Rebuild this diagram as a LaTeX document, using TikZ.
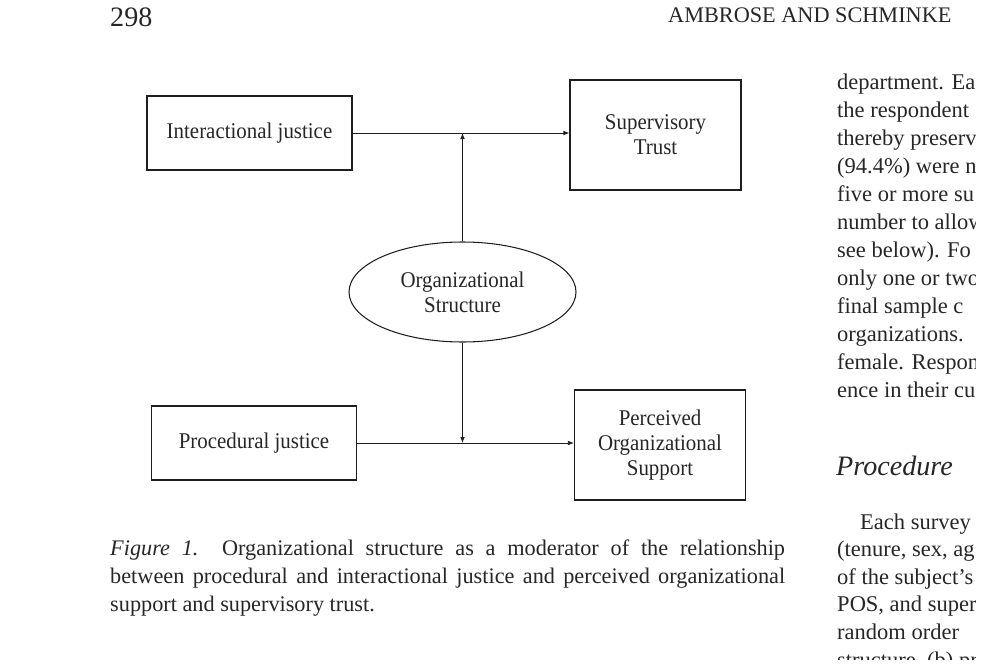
\documentclass[tikz,border=0pt]{standalone}
\usepackage{fontspec}
\setmainfont{Liberation Serif}
\newfontfamily\figfont[FakeStretch=0.93]{Liberation Serif}
\usepackage{tikz}
\usetikzlibrary{arrows.meta,positioning,shapes.geometric}
\definecolor{cInk}{HTML}{262626}
\definecolor{cLine}{HTML}{1E1E1E}
\tikzset{
  jbox/.style={rectangle, draw=cLine, line width=1pt, minimum width=6.15cm, minimum height=2.22cm, inner sep=0pt, align=center, text=cInk, font=\figfont\fontsize{19.2}{21.3}\selectfont},
  obox/.style={jbox, minimum width=5.13cm, minimum height=3.3cm},
  oval/.style={ellipse, draw=cLine, line width=0.9pt, minimum width=6.81cm, minimum height=3.0cm, inner sep=0pt, align=center, text=cInk, font=\figfont\fontsize{19.2}{21.3}\selectfont},
  link/.style={-{Latex[length=1.8mm, width=1.4mm]}, line width=0.7pt, cLine},
  body/.style={anchor=base west, inner sep=0pt, text=cInk, font=\fontsize{19.2}{23}\selectfont},
  capline/.style={anchor=base west, inner sep=0pt, text=cInk, font=\fontsize{19}{23}\selectfont},
}

\begin{document}
\begin{tikzpicture}[x=0.03cm, y=-0.03cm]
  \useasboundingbox (0,0) rectangle (1007,671);
  % running head
  \node[capline, font=\fontsize{24}{28}\selectfont] (pagenum) at (110,26) {298};
  \node[capline] (runhead) at (668,22) {AMBROSE AND SCHMINKE};
  % model
  \node[jbox] (inter) at (249.5,133) {Interactional justice};
  \node[obox] (trust) at (655.5,135) {Supervisory\\Trust};
  \node[oval] (struct) at (462.5,292) {Organizational\\Structure};
  \node[jbox] (proc) at (254,443) {Procedural justice};
  \node[obox] (pos) at (660,445) {Perceived\\Organizational\\Support};
  \coordinate (trustin) at (inter.east -| trust.west);
  \coordinate (posin) at (proc.east -| pos.west);
  \coordinate (upjoin) at (struct.north |- inter.east);
  \coordinate (downjoin) at (struct.south |- proc.east);
  \foreach \a/\b in {inter.east/trustin, proc.east/posin, struct.north/upjoin, struct.south/downjoin}
    \draw[link] (\a) -- (\b);
  % caption
  \node[capline] (cap1) at (110,555) {\makebox[576pt][s]{\textit{Figure 1.}\ \ Organizational structure as a moderator of the relationship}};
  \node[capline] (cap2) at (110,583) {\makebox[576pt][s]{between procedural and interactional justice and perceived organizational}};
  \node[capline] (cap3) at (110,611) {support and supervisory trust.};
  % right column, cut at the page edge
  \begin{scope}
    \clip (830,60) rectangle (975,659);
    \foreach \txt [count=\i from 0] in {department. Eac, the respondent, thereby preserv, {(94.4\%) were n}, five or more su, number to allow, {see below). Fo}, only one or two, final sample c, organizations., female. Respon, ence in their cu}
      \node[body] (colA\i) at (837,{89+28*\i}) {\txt};
    \node[body, font=\itshape\fontsize{24}{28}\selectfont] (prochead) at (836,475) {Procedure};
    \node[body] (colB0) at (860,529) {Each survey};
    \foreach \txt [count=\i from 1] in {{(tenure, sex, ag}, of the subject’s, {POS, and super}, random order, {structure, (b) pr}}
      \node[body] (colB\i) at (837,{529+27.6*\i}) {\txt};
  \end{scope}
\end{tikzpicture}
\end{document}
